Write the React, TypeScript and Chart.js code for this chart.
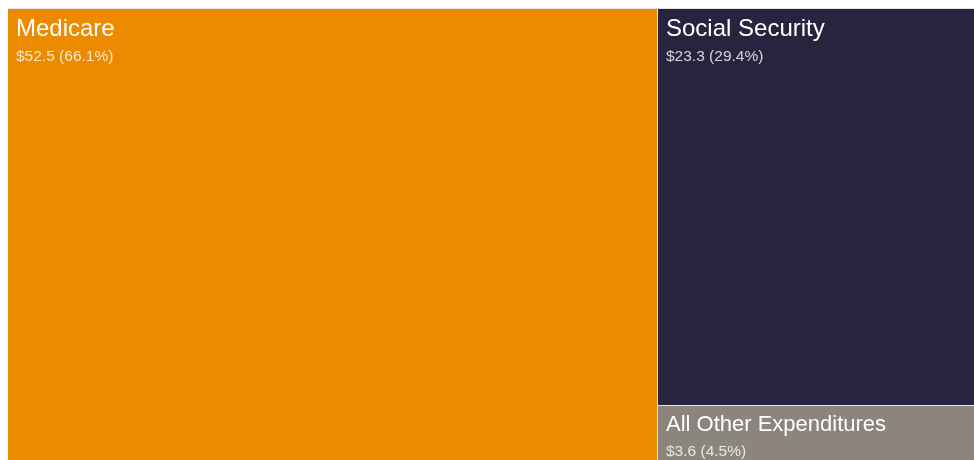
import React, { useEffect, useRef } from "react";
import { Chart, registerables } from "chart.js";

Chart.register(...registerables);

const categories = ["Medicare", "Social Security", "All Other Expenditures"];
const values = [52.5, 23.3, 3.6];
const valueLabels = ["$52.5", "$23.3", "$3.6"];
const percentLabels = ["(66.1%)", "(29.4%)", "(4.5%)"];
const colors = ["#EC8B00", "#28233F", "#8B857E"];

type Rect = { x: number; y: number; w: number; h: number; i: number };

// squarify in a space of width `aspect`, height 1; returns normalized rects (0..1)
function squarify(vals: number[], aspect: number): Rect[] {
  const total = vals.reduce((a, b) => a + b, 0);
  const items = vals
    .map((v, i) => ({ a: (v / total) * aspect, i }))
    .sort((p, q) => q.a - p.a);
  const out: Rect[] = [];
  let rx = 0, ry = 0, rw = aspect, rh = 1;
  const worst = (row: { a: number }[], side: number) => {
    if (!row.length) return Infinity;
    const s = row.reduce((t, r) => t + r.a, 0);
    let mx = 0, mn = Infinity;
    row.forEach((r) => { mx = Math.max(mx, r.a); mn = Math.min(mn, r.a); });
    return Math.max((side * side * mx) / (s * s), (s * s) / (side * side * mn));
  };
  const layoutRow = (row: { a: number; i: number }[]) => {
    const s = row.reduce((t, r) => t + r.a, 0);
    if (rw >= rh) {
      const cw = s / rh;
      let yy = ry;
      row.forEach((r) => {
        const hh = r.a / cw;
        out.push({ x: rx, y: yy, w: cw, h: hh, i: r.i });
        yy += hh;
      });
      rx += cw; rw -= cw;
    } else {
      const ch = s / rw;
      let xx = rx;
      row.forEach((r) => {
        const ww = r.a / ch;
        out.push({ x: xx, y: ry, w: ww, h: ch, i: r.i });
        xx += ww;
      });
      ry += ch; rh -= ch;
    }
  };
  let row: { a: number; i: number }[] = [];
  let k = 0;
  while (k < items.length) {
    const side = Math.min(rw, rh);
    const cand = [...row, items[k]];
    if (!row.length || worst(cand, side) <= worst(row, side)) {
      row = cand;
      k++;
    } else {
      layoutRow(row);
      row = [];
    }
  }
  if (row.length) layoutRow(row);
  return out.map((r) => ({ x: r.x / aspect, y: r.y, w: r.w / aspect, h: r.h, i: r.i }));
}

const treemapPlugin = {
  id: "treemapCells",
  beforeDatasetsDraw(chart: any) {
    const { ctx, chartArea, scales } = chart;
    const xs = scales.x, ys = scales.y;
    const aspect = chartArea.width / chartArea.height;
    const rects = squarify(values, aspect);
    ctx.save();
    ctx.fillStyle = "#E4E4E4";
    ctx.fillRect(0, 0, chart.width, chart.height);
    rects.forEach((r) => {
      const x0 = Math.round(xs.getPixelForValue(r.x));
      const x1 = Math.round(xs.getPixelForValue(r.x + r.w));
      const y0 = Math.round(ys.getPixelForValue(r.y));
      const y1 = Math.round(ys.getPixelForValue(r.y + r.h));
      const left = r.x > 0.0001 ? x0 + 1 : x0;
      const top = r.y > 0.0001 ? y0 + 1 : y0;
      ctx.fillStyle = colors[r.i];
      ctx.fillRect(left, top, x1 - left, y1 - top);
      const small = y1 - top < 100;
      const titleSize = small ? 22 : 24;
      const titleBase = top + (small ? 25 : 27);
      ctx.textAlign = "left";
      ctx.textBaseline = "alphabetic";
      ctx.fillStyle = "#FFFFFF";
      ctx.font = `${titleSize}px "Liberation Sans", Arial, sans-serif`;
      ctx.fillText(categories[r.i], left + 8, titleBase);
      ctx.font = '15.5px "Liberation Sans", Arial, sans-serif';
      ctx.fillStyle = "rgba(255,255,255,0.8)";
      ctx.fillText(valueLabels[r.i] + " " + percentLabels[r.i], left + 8, titleBase + 24.5);
    });
    ctx.restore();
  },
};

export default function App() {
  const ref = useRef<HTMLCanvasElement | null>(null);
  useEffect(() => {
    document.documentElement.style.overflow = "hidden";
    document.body.style.overflow = "hidden";
    if (!ref.current) return;
    const chart = new Chart(ref.current, {
      type: "scatter",
      data: {
        datasets: [
          {
            label: "cells",
            data: values.map(() => ({ x: 0, y: 0 })),
            pointRadius: 0,
            pointHoverRadius: 0,
          },
        ],
      },
      options: {
        animation: false,
        responsive: false,
        maintainAspectRatio: false,
        devicePixelRatio: 1,
        layout: { padding: { top: 1, left: 0, right: 0, bottom: 0 } },
        plugins: { legend: { display: false }, tooltip: { enabled: false } },
        events: [],
        scales: {
          x: { type: "linear", min: 0, max: 1, display: false },
          y: { type: "linear", min: 0, max: 1, reverse: true, display: false },
        },
      },
      plugins: [treemapPlugin],
    });
    return () => chart.destroy();
  }, []);
  return (
    <div style={{ width: 958, height: 452 }}>
      <canvas
        ref={ref}
        width={982}
        height={458}
        style={{ display: "block", position: "fixed", left: 8, top: 8, width: 982, height: 458 }}
      />
    </div>
  );
}
